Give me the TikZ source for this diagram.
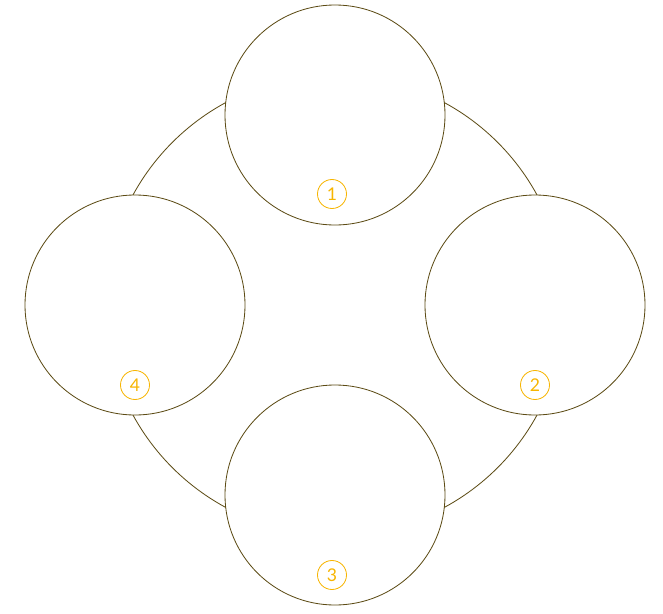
\documentclass[tikz,border=0pt]{standalone}
\usepackage{fontspec}
\setmainfont{Lato}
\definecolor{ringline}{HTML}{5C4B14}
\definecolor{numgold}{HTML}{F7B500}
\begin{document}
\begin{tikzpicture}[
            x=0.03cm, y=-0.03cm,
            part/.style={circle, draw=ringline, line width=0.7pt, fill=white, minimum size=6.6cm, inner sep=0pt},
            badge/.style={circle, draw=numgold, text=numgold, line width=0.7pt, fill=white, minimum size=0.87cm, inner sep=0pt, font=\fontsize{15}{18}\selectfont}
            ]
            \useasboundingbox (0,0) rectangle (663,614);
            \draw[ringline, line width=0.7pt] (335,305) circle[radius=6.9cm];
            \node[part] (a) at (335,115) {};
            \node[part] (b) at (535,305) {};
            \node[part] (c) at (335,495) {};
            \node[part] (d) at (135,305) {};
            \node[badge] (na) at (332,194) {1};
            \node[badge] (nb) at (535,385) {2};
            \node[badge] (nc) at (332,575) {3};
            \node[badge] (nd) at (135,385) {4};
            \end{tikzpicture}
\end{document}
